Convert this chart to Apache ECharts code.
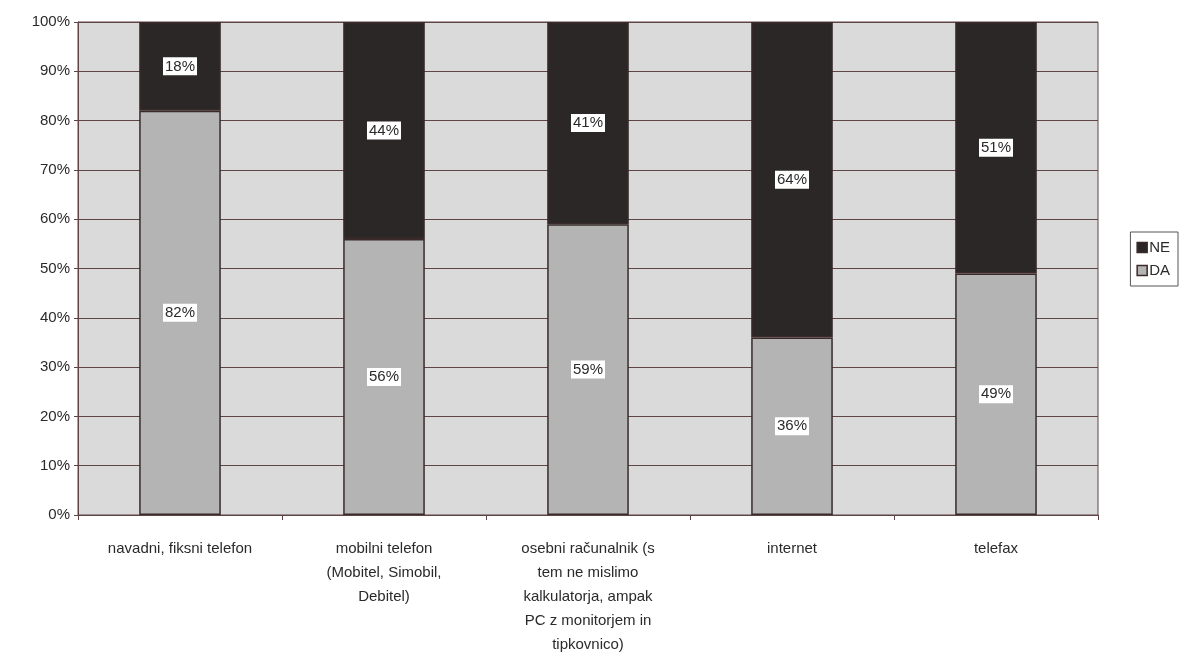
<!DOCTYPE html>
<html>
<head>
<meta charset="utf-8">
<script src="https://cdn.jsdelivr.net/npm/echarts@6/dist/echarts.min.js"></script>
<style>
  html, body { margin: 0; padding: 0; background: #ffffff; }
  #chart { width: 1182px; height: 662px; }
</style>
</head>
<body>
<div id="chart"></div>
<script>
// Survey: owns the device? DA = yes, NE = no (percent of respondents)
const categories = [
  'navadni, fiksni telefon',
  'mobilni telefon\n(Mobitel, Simobil,\nDebitel)',
  'osebni računalnik (s\ntem ne mislimo\nkalkulatorja, ampak\nPC z monitorjem in\ntipkovnico)',
  'internet',
  'telefax'
];
const daValues = [82, 56, 59, 36, 49];
const neValues = [18, 44, 41, 64, 51];
const yTicks = [0, 10, 20, 30, 40, 50, 60, 70, 80, 90, 100];

const lineColor = '#5e4444';
const fontFamily = '"Liberation Sans", Arial, sans-serif';

const chart = echarts.init(document.getElementById('chart'), null, { renderer: 'canvas' });

const segLabel = {
  show: true,
  position: 'inside',
  formatter: p => p.value + '%',
  color: '#2a2a2a',
  fontFamily: fontFamily,
  fontSize: 15,
  backgroundColor: '#ffffff',
  padding: [2, 2, 1, 2]
};

chart.setOption({
  animation: false,
  backgroundColor: '#ffffff',
  grid: {
    left: 78, right: 84, top: 22, bottom: 147,
    show: true,
    backgroundColor: '#dadada',
    borderColor: lineColor,
    borderWidth: 1
  },
  legend: {
    orient: 'vertical',
    right: 4,
    top: 232,
    icon: 'rect',
    itemWidth: 10,
    itemHeight: 10,
    itemGap: 8,
    padding: [8, 8, 8, 6],
    borderColor: '#555555',
    borderWidth: 1,
    data: ['NE', 'DA'],
    itemStyle: { borderColor: '#3a2a2a', borderWidth: 1.5 },
    textStyle: { fontFamily: fontFamily, fontSize: 15, color: '#2a2a2a', padding: [0, 0, 0, -3] }
  },
  xAxis: {
    type: 'category',
    data: categories,
    axisLine: { lineStyle: { color: lineColor, width: 1 } },
    axisTick: { show: true, alignWithLabel: false, length: 5, lineStyle: { color: lineColor } },
    axisLabel: {
      interval: 0,
      color: '#2a2a2a',
      fontFamily: fontFamily,
      fontSize: 15,
      lineHeight: 24,
      margin: 22,
      align: 'center'
    }
  },
  yAxis: {
    type: 'value',
    min: 0,
    max: 100,
    interval: 10,
    axisLine: { show: true, lineStyle: { color: lineColor } },
    axisTick: { show: true, length: 4, inside: false, lineStyle: { color: lineColor } },
    splitLine: { show: true, lineStyle: { color: lineColor, width: 1 } },
    axisLabel: {
      formatter: v => (yTicks.includes(v) ? v + '%' : ''),
      color: '#2a2a2a',
      fontFamily: fontFamily,
      fontSize: 15,
      margin: 8
    }
  },
  series: [
    {
      name: 'DA',
      type: 'bar',
      stack: 'total',
      data: daValues,
      barWidth: '40%',
      itemStyle: { color: '#b4b4b4', borderColor: '#3a2a2a', borderWidth: 1.5 },
      label: segLabel
    },
    {
      name: 'NE',
      type: 'bar',
      stack: 'total',
      data: neValues,
      barWidth: '40%',
      itemStyle: { color: '#2b2727', borderColor: '#3a2a2a', borderWidth: 1.5 },
      label: segLabel
    }
  ]
});
</script>
</body>
</html>
